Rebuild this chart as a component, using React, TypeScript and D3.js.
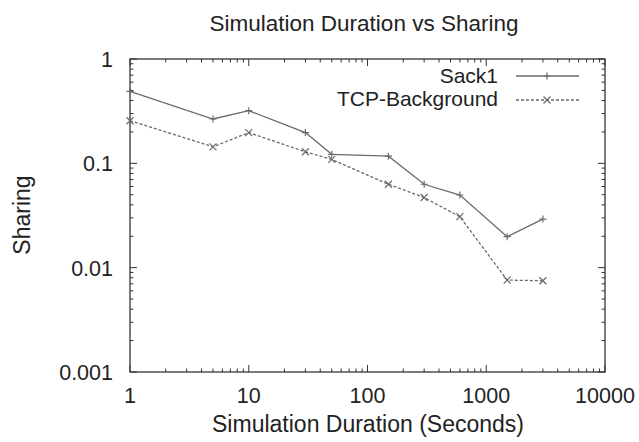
import React from "react";
import * as d3 from "d3";

const durations = [1, 5, 10, 30, 50, 150, 300, 600, 1500, 3000];
const sack1 = [0.49, 0.266, 0.32, 0.197, 0.122, 0.117, 0.063, 0.0497, 0.0198, 0.0292];
const tcpBackground = [0.256, 0.144, 0.197, 0.129, 0.109, 0.063, 0.047, 0.0308, 0.0076, 0.0075];
const xTicks = [1, 10, 100, 1000, 10000];
const yTicks = [0.001, 0.01, 0.1, 1];
const xTickLabels = ["1", "10", "100", "1000", "10000"];
const yTickLabels = ["0.001", "0.01", "0.1", "1"];
const seriesNames = ["Sack1", "TCP-Background"];

const W = 639;
const H = 442;
const L = 130, R = 605, T = 59, B = 372;
const FONT = "'Liberation Sans', Arial, Helvetica, sans-serif";
const AXIS = "#333";
const LINE = "#6a6a6a";

export default function App() {
  const x = d3.scaleLog().domain([1, 10000]).range([L, R]);
  const y = d3.scaleLog().domain([0.001, 1]).range([B, T]);

  const minorX: number[] = [];
  for (let d = 1; d < 10000; d *= 10) for (let k = 2; k <= 9; k++) minorX.push(d * k);
  const minorY: number[] = [];
  for (let d = 0.001; d < 0.99; d *= 10) for (let k = 2; k <= 9; k++) minorY.push(d * k);

  const line = d3.line<[number, number]>().x((p) => x(p[0])).y((p) => y(p[1]));
  const s1 = durations.map((d, i) => [d, sack1[i]] as [number, number]);
  const s2 = durations.map((d, i) => [d, tcpBackground[i]] as [number, number]);

  const MJ = 7, MN = 3.5, M = 3.5;
  const plus = (cx: number, cy: number, key: string) => (
    <path key={key} d={`M${cx - M},${cy}H${cx + M}M${cx},${cy - M}V${cy + M}`} stroke={LINE} strokeWidth={1.2} fill="none" />
  );
  const cross = (cx: number, cy: number, key: string) => (
    <path key={key} d={`M${cx - M},${cy - M}L${cx + M},${cy + M}M${cx - M},${cy + M}L${cx + M},${cy - M}`} stroke={LINE} strokeWidth={1.2} fill="none" />
  );

  return (
    <svg width={W} height={H} style={{ position: "absolute", left: 0, top: 0, background: "#fff" }} fontFamily={FONT}>
      <rect width={W} height={H} fill="#fff" />
      <g stroke={AXIS} strokeWidth={1}>
        {xTicks.map((t) => (
          <g key={"xt" + t}>
            <line x1={x(t)} x2={x(t)} y1={B} y2={B - MJ} />
            <line x1={x(t)} x2={x(t)} y1={T} y2={T + MJ} />
          </g>
        ))}
        {minorX.map((t) => (
          <g key={"xm" + t}>
            <line x1={x(t)} x2={x(t)} y1={B} y2={B - MN} />
            <line x1={x(t)} x2={x(t)} y1={T} y2={T + MN} />
          </g>
        ))}
        {yTicks.map((t) => (
          <g key={"yt" + t}>
            <line x1={L} x2={L + MJ} y1={y(t)} y2={y(t)} />
            <line x1={R} x2={R - MJ} y1={y(t)} y2={y(t)} />
          </g>
        ))}
        {minorY.map((t) => (
          <g key={"ym" + t}>
            <line x1={L} x2={L + MN} y1={y(t)} y2={y(t)} />
            <line x1={R} x2={R - MN} y1={y(t)} y2={y(t)} />
          </g>
        ))}
      </g>
      <rect x={L} y={T} width={R - L} height={B - T} fill="none" stroke={AXIS} strokeWidth={1.3} />
      <g fontSize={21.5} fill="#222">
        {xTicks.map((t, i) => (
          <text key={"xl" + t} x={x(t)} y={403} textAnchor="middle">{xTickLabels[i]}</text>
        ))}
        {yTicks.map((t, i) => (
          <text key={"yl" + t} x={113} y={y(t) + 8} textAnchor="end">{yTickLabels[i]}</text>
        ))}
      </g>
      <path d={line(s1) || ""} fill="none" stroke={LINE} strokeWidth={1.3} />
      <path d={line(s2) || ""} fill="none" stroke={LINE} strokeWidth={1.3} strokeDasharray="3,2" />
      {s1.map((p, i) => plus(x(p[0]), y(p[1]), "p" + i))}
      {s2.map((p, i) => cross(x(p[0]), y(p[1]), "c" + i))}
      <g fontSize={21} fill="#222">
        <text x={498} y={83} textAnchor="end">{seriesNames[0]}</text>
        <text x={498} y={106} textAnchor="end">{seriesNames[1]}</text>
      </g>
      <line x1={516} x2={579} y1={76} y2={76} stroke={LINE} strokeWidth={1.3} />
      {plus(547, 76, "lp")}
      <line x1={516} x2={579} y1={100} y2={100} stroke={LINE} strokeWidth={1.3} strokeDasharray="3,2" />
      {cross(547, 100, "lc")}
      <text x={364} y={31} textAnchor="middle" fontSize={22.5} fill="#222">Simulation Duration vs Sharing</text>
      <text x={368} y={432} textAnchor="middle" fontSize={23} fill="#222">Simulation Duration (Seconds)</text>
      <text transform="translate(30,215) rotate(-90)" textAnchor="middle" fontSize={23} fill="#222">Sharing</text>
    </svg>
  );
}
